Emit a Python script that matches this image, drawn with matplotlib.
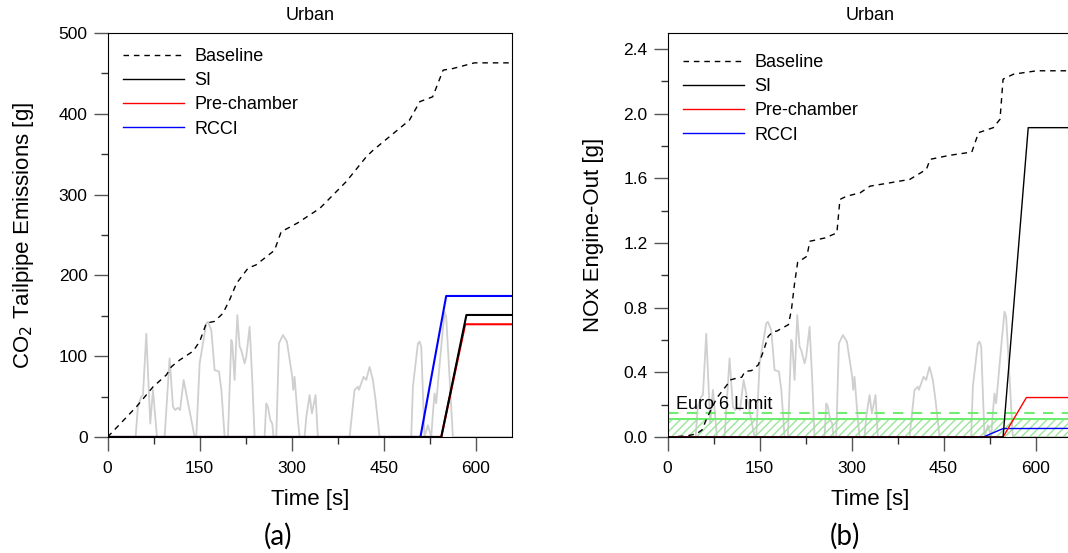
import matplotlib.pyplot as plt
from matplotlib.ticker import MultipleLocator, FormatStrFormatter

plt.rcParams['font.family'] = ['Liberation Sans', 'DejaVu Sans']

# vehicle speed trace [km/h] (grey background line)
speed_t = [0, 45.6, 49.3, 54.9, 57.6, 63.0, 69.5, 73.9, 80.4,
           92.9, 101.0, 106.5, 110.0, 114.6, 118.0, 123.9, 141.8,
           144.5, 150.0, 160.8, 163.5, 169.0, 174.4, 181.5, 185.4, 190.7,
           196.1, 201.6, 203.2, 207.0, 211.4, 215.2, 217.9, 223.3, 226.0, 231.5, 235.8, 239.6,
           255.9, 258.6, 261.3, 265.1, 268.4, 270.5,
           274.9, 279.3, 285.8, 292.3, 301.0, 302.6, 304.8, 310.2, 313.0,
           321.1, 323.9, 329.3, 333.1, 339.0, 342.8,
           394.5, 402.6, 408.0, 409.7, 417.3, 421.6, 427.0, 432.5, 436.8, 443.4,
           495.0, 497.7, 505.9, 508.6, 511.3, 516.7, 522.2, 527.6, 530.3, 533.0,
           535.7, 543.9, 549.3, 552.0, 562.9, 660]
speed_v = [0, 0, 13.5, 18.0, 18.7, 46.0, 6.0, 21.0, 0,
           0, 35.0, 13.5, 12.0, 13.0, 12.0, 25.4, 0,
           0, 32.8, 50.6, 51.3, 47.6, 29.8, 29.2, 21.0, 0,
           0, 43.2, 41.7, 25.4, 54.3, 40.2, 38.7, 32.8, 35.8, 49.1, 25.4, 0,
           0, 15.0, 13.5, 7.6, 6.0, 0,
           0, 41.7, 45.4, 42.5, 26.8, 21.0, 26.8, 7.6, 0,
           0, 9.0, 18.7, 10.5, 18.7, 0,
           0, 21.0, 22.4, 21.0, 26.8, 25.4, 31.2, 25.4, 16.5, 0,
           0, 22.4, 41.7, 42.5, 40.2, 0, 5.2, 0, 10.5, 19.4,
           15.0, 40.2, 55.8, 53.6, 0, 0]

# CO2 tailpipe [g]
co2_t = [0, 47, 63, 74, 96, 104, 117, 139, 150, 161, 174, 188, 199, 210, 229,
         242, 272, 283, 310, 346, 389, 422, 433, 492, 509, 530, 547, 563, 598, 660]
co2_base = [0, 37.5, 52, 62, 77, 87, 95, 106, 118, 141, 143, 153, 170, 190, 209,
            213, 231, 254, 265, 283, 316, 347, 355, 392, 415, 421, 454, 456, 463, 463]
co2_si_t = [0, 544, 585, 660]
co2_si = [0, 0, 151, 151]
co2_pc_t = [0, 544, 583, 660]
co2_pc = [0, 0, 139.5, 139.5]
co2_rcci_t = [0, 510, 552, 660]
co2_rcci = [0, 0, 174.5, 174.5]

# NOx engine-out [g]
nox_t = [0, 30, 47, 56, 64, 80, 99, 102, 113, 121, 126, 137, 148, 156, 164,
         172, 178, 197, 202, 207, 212, 227, 232, 257, 276, 281, 292, 314, 330, 363,
         395, 422, 428, 460, 496, 507, 531, 542, 547, 564, 602, 660]
nox_base = [0, 0.006, 0.019, 0.043, 0.116, 0.24, 0.333, 0.353, 0.364, 0.37, 0.405,
            0.411, 0.447, 0.529, 0.622, 0.653, 0.655, 0.695, 0.79, 0.95, 1.08, 1.118,
            1.211, 1.232, 1.263, 1.47, 1.49, 1.511, 1.552, 1.573, 1.594, 1.656, 1.718,
            1.743, 1.763, 1.883, 1.914, 1.966, 2.214, 2.245, 2.266, 2.266]
nox_si_t = [0, 547, 588, 660]
nox_si = [0, 0, 1.914, 1.914]
nox_pc_t = [0, 547, 585, 660]
nox_pc = [0, 0, 0.244, 0.244]
nox_rcci_t = [0, 515, 547, 660]
nox_rcci = [0, 0, 0.052, 0.053]

euro6_limit = 0.147
euro6_band = 0.11

fig = plt.figure(figsize=(10.68, 5.53), dpi=100)
ax1 = fig.add_axes([0.1008, 0.2098, 0.379, 0.7306])
ax2 = fig.add_axes([0.6251, 0.2098, 0.379, 0.7306])


def speed_background(ax):
    tw = ax.twinx()
    tw.plot(speed_t, speed_v, color='#cfcfcf', lw=1.3)
    tw.set_ylim(0, 180)
    tw.set_yticks([])
    for s in tw.spines.values():
        s.set_visible(False)
    ax.set_zorder(tw.get_zorder() + 1)
    ax.patch.set_visible(False)


def style_axes(ax):
    ax.set_xlim(0, 660)
    ax.xaxis.set_major_locator(MultipleLocator(150))
    ax.xaxis.set_minor_locator(MultipleLocator(75))
    ax.tick_params(which='major', length=10, width=1, color='#555555', labelsize=12.5)
    ax.tick_params(which='minor', length=5, width=1, color='#333333')
    ax.tick_params(axis='x', which='major', pad=7)
    ax.tick_params(axis='y', which='major', pad=4.5)
    ax.set_xlabel('Time [s]', fontsize=16, labelpad=10)
    ax.set_title('Urban', fontsize=13, pad=9)


# (a) CO2
speed_background(ax1)
ax1.plot(co2_t, co2_base, color='black', lw=1, ls=(0, (4, 3.5)), label='Baseline')
ax1.plot(co2_rcci_t, co2_rcci, color='blue', lw=1.5, label='RCCI', zorder=2)
ax1.plot(co2_pc_t, co2_pc, color='red', lw=1.5, label='Pre-chamber', zorder=2.1)
ax1.plot(co2_si_t, co2_si, color='black', lw=1.5, label='SI', zorder=2.2)
ax1.set_ylim(0, 500)
ax1.yaxis.set_major_locator(MultipleLocator(100))
ax1.yaxis.set_minor_locator(MultipleLocator(50))
ax1.set_ylabel('CO$_2$ Tailpipe Emissions [g]', fontsize=16, labelpad=16)
style_axes(ax1)
h, l = ax1.get_legend_handles_labels()
order = [0, 3, 2, 1]
leg = ax1.legend([h[i] for i in order], [l[i] for i in order], loc='upper left',
                 bbox_to_anchor=(0.038, 0.963), frameon=False, fontsize=13,
                 handlelength=3.4, handletextpad=0.55, labelspacing=0.4,
                 borderpad=0, borderaxespad=0)
for line in leg.get_lines():
    line.set_linewidth(1)

# (b) NOx
speed_background(ax2)
ax2.fill_between([0, 660], 0, euro6_band, facecolor='none', edgecolor='#9be69b',
                 hatch='////', lw=0)
ax2.axhline(euro6_band, color='#70ec70', lw=1.5)
ax2.axhline(euro6_limit, color='#70ec70', lw=1.5, ls=(0, (5, 4)))
ax2.text(14, 0.198, 'Euro 6 Limit', fontsize=13, va='center', ha='left')
ax2.plot(nox_t, nox_base, color='black', lw=1, ls=(0, (4, 3.5)), label='Baseline')
ax2.plot(nox_rcci_t, nox_rcci, color='blue', lw=1, label='RCCI', zorder=2)
ax2.plot(nox_pc_t, nox_pc, color='red', lw=1, label='Pre-chamber', zorder=2.1)
ax2.plot(nox_si_t, nox_si, color='black', lw=1, label='SI', zorder=2.2)
ax2.set_ylim(0, 2.5)
ax2.yaxis.set_major_locator(MultipleLocator(0.4))
ax2.yaxis.set_minor_locator(MultipleLocator(0.2))
ax2.yaxis.set_major_formatter(FormatStrFormatter('%.1f'))
ax2.set_ylabel('NOx Engine-Out [g]', fontsize=16, labelpad=14)
style_axes(ax2)
h, l = ax2.get_legend_handles_labels()
ax2.legend([h[i] for i in order], [l[i] for i in order], loc='upper left',
           bbox_to_anchor=(0.038, 0.948), frameon=False, fontsize=13,
           handlelength=3.4, handletextpad=0.55, labelspacing=0.4,
           borderpad=0, borderaxespad=0)

fig.text(0.26, 0.031, '(a)', fontsize=20, family=['Lato', 'DejaVu Sans'], ha='center', va='center')
fig.text(0.791, 0.031, '(b)', fontsize=20, family=['Lato', 'DejaVu Sans'], ha='center', va='center')

fig.savefig('out.png', dpi=100)
